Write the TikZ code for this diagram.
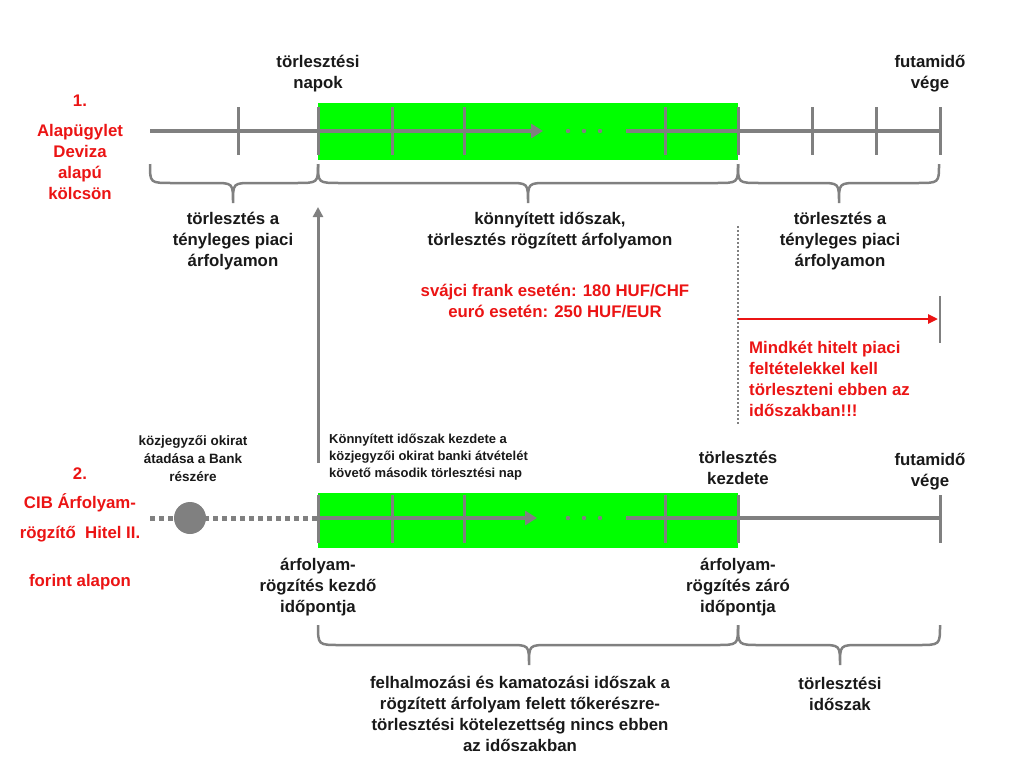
\documentclass[tikz,border=0pt]{standalone}
\usepackage{fontspec}
\setmainfont{Liberation Sans}
\usetikzlibrary{arrows.meta}
\definecolor{lgray}{RGB}{128,128,128}
\definecolor{lgreen}{RGB}{0,255,0}
\definecolor{lred}{RGB}{235,20,20}
\definecolor{ltext}{RGB}{25,25,25}
\newcommand\mybrace[5]{% x1, x2, tip, ytop, ybottom
  \draw[bracestyle] (#1,#4) .. controls (#1,#5) .. (#1+22,#5) -- (#3-20,#5)
    .. controls (#3,#5) .. (#3,#5+20) .. controls (#3,#5) .. (#3+20,#5)
    -- (#2-22,#5) .. controls (#2,#5) .. (#2,#4);}
\begin{document}
\begin{tikzpicture}[x=1pt,y=-1pt,
  txt/.style={font=\bfseries\fontsize{16.8}{21}\selectfont, align=center, text=ltext, inner sep=0},
  rtxt/.style={txt, text=lred},
  smalltxt/.style={font=\bfseries\fontsize{13}{17}\selectfont, text=ltext, inner sep=0},
  axis/.style={draw=lgray, line width=4pt},
  tickline/.style={draw=lgray, line width=3pt},
  bracestyle/.style={draw=lgray, line width=2.5pt},
  headtip/.style={-{Triangle[length=12pt,width=14pt]}},
  dotfill/.style={fill=lgray}
]
\useasboundingbox (0,0) rectangle (1024,768);

% ---------- top timeline ----------
\fill[lgreen] (318,103) rectangle (738,160);
\coordinate (t0) at (150,131);
\coordinate (ta) at (543,131);
\coordinate (tb) at (626,131);
\coordinate (t1) at (940,131);
\draw[axis,headtip] (t0) -- (ta);
\draw[axis] (tb) -- (t1);
\foreach \x in {568,584,600} \fill[dotfill] (\x,131) circle (2.2);
\foreach \x in {238,318,392,464,665,738,812,876,940}
  \draw[tickline] (\x,107) -- (\x,155);

\node[txt] (tn) at (318,74) {törlesztési\\napok};
\node[txt] (fv1) at (930,74) {futamidő\\vége};
\node[rtxt] (n1) at (80,101) {1.};
\node[rtxt] (alap) at (80,162) {Alapügylet\\Deviza\\alapú\\kölcsön};

\mybrace{150}{318}{233}{164}{183}
\mybrace{318}{738}{528}{164}{183}
\mybrace{738}{939}{839}{164}{183}

\node[txt] (b1) at (233,241) {törlesztés a\\tényleges piaci\\árfolyamon};
\node[txt] (b2) at (550,231) {könnyített időszak,\\törlesztés rögzített árfolyamon};
\node[txt] (b3) at (840,241) {törlesztés a\\tényleges piaci\\árfolyamon};
\node[rtxt] (rate) at (555,301) {svájci frank esetén: 180 HUF/CHF\\euró esetén: 250 HUF/EUR};

% dotted separator and red arrow
\coordinate (d0) at (738,226);
\coordinate (d1) at (738,425);
\draw[lgray, line width=2pt, dash pattern=on 2pt off 2pt] (d0) -- (d1);
\coordinate (ra0) at (738,319);
\coordinate (ra1) at (938,319);
\draw[tickline, line width=2.5pt] (940,296) -- (940,343);
\draw[lred, line width=2.5pt, -{Triangle[length=10pt,width=9pt]}] (ra0) -- (ra1);
\node[rtxt, align=left, anchor=north west] (warn) at (749,341)
  {Mindkét hitelt piaci\\feltételekkel kell\\törleszteni ebben az\\időszakban!!!};

% vertical arrow
\coordinate (va0) at (318,463);
\coordinate (va1) at (318,207);
\draw[lgray, line width=3pt, -{Triangle[length=10pt,width=10pt]}] (va0) -- (va1);
\node[smalltxt, align=left, anchor=west] (kezd) at (329,457)
  {Könnyített időszak kezdete a\\közjegyzői okirat banki átvételét\\követő második törlesztési nap};
\node[smalltxt, align=center, font=\bfseries\fontsize{13.5}{18}\selectfont] (kozj) at (193,459) {közjegyzői okirat\\átadása a Bank\\részére};

% ---------- bottom timeline ----------
\node[rtxt] (n2) at (80,474) {2.};
\node[rtxt] (cib1) at (80,503) {CIB Árfolyam-};
\node[rtxt] (cib2) at (80,534) {rögzítő\ \ Hitel II.};
\node[rtxt] (cib3) at (80,582) {forint alapon};

\fill[lgreen] (318,493) rectangle (738,548);
\coordinate (s0) at (150,518);
\coordinate (s1) at (318,518);
\coordinate (sa) at (537,518);
\coordinate (sb) at (626,518);
\coordinate (s2) at (940,518);
\draw[lgray, line width=5pt, dash pattern=on 5pt off 4pt] (s0) -- (s1);
\node[circle, fill=lgray, minimum size=32pt, inner sep=0] (dot) at (190,518) {};
\draw[axis,headtip] (s1) -- (sa);
\draw[axis] (sb) -- (s2);
\foreach \x in {568,584,600} \fill[dotfill] (\x,518) circle (2.2);
\foreach \x in {318,392,464,665,738,940}
  \draw[tickline] (\x,495) -- (\x,543);

\node[txt] (tk) at (738,468) {törlesztés\\kezdete};
\node[txt] (fv2) at (930,472) {futamidő\\vége};
\node[txt] (ak) at (318,587) {árfolyam-\\rögzítés kezdő\\időpontja};
\node[txt] (az) at (738,587) {árfolyam-\\rögzítés záró\\időpontja};

\mybrace{318}{738}{529}{625}{645}
\mybrace{738}{940}{840}{625}{645}

\node[txt] (felh) at (520,714) {felhalmozási és kamatozási időszak a\\rögzített árfolyam felett tőkerészre-\\törlesztési kötelezettség nincs ebben\\az időszakban};
\node[txt] (tid) at (840,694) {törlesztési\\időszak};
\end{tikzpicture}
\end{document}
